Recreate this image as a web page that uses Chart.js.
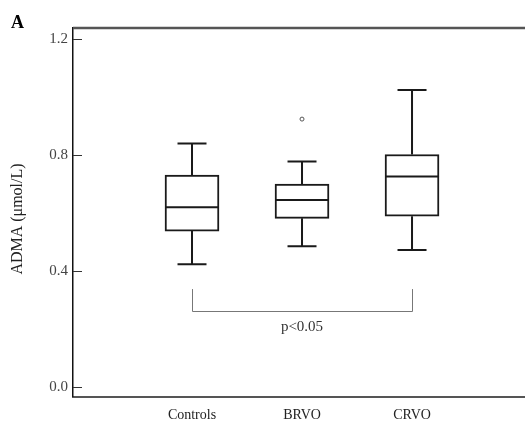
<!DOCTYPE html>
<html>
<head>
<meta charset="utf-8">
<script src="https://cdn.jsdelivr.net/npm/chart.js@4/dist/chart.umd.min.js"></script>
<style>
html,body{margin:0;padding:0;background:#fff;}
canvas{display:block;}
</style>
</head>
<body>
<canvas id="c" width="525" height="425"></canvas>
<script>
const categories = ['Controls', 'BRVO', 'CRVO'];
const whiskerLow  = [0.423, 0.485, 0.472];
const q1          = [0.537, 0.581, 0.588];
const median      = [0.619, 0.644, 0.725];
const q3          = [0.730, 0.699, 0.801];
const whiskerHigh = [0.839, 0.777, 1.023];
const outliers    = [[], [0.923], []];
const yTicks      = [0.0, 0.4, 0.8, 1.2];
const yTitle = 'ADMA (\u03bcmol/L)';
const panelLabel = 'A';
const comparison = {from: 0, to: 2, level: 0.262, top: 0.337, text: 'p<0.05'};

const SERIF = '"Liberation Serif", "DejaVu Serif", serif';

const boxPlugin = {
  id: 'boxExtras',
  afterDatasetsDraw(chart) {
    const ctx = chart.ctx;
    const xs = chart.scales.x, ys = chart.scales.y;
    const area = chart.chartArea;
    ctx.save();
    ctx.strokeStyle = '#1a1a1a';
    ctx.lineWidth = 2;
    const boxHalf = 27, capHalf = 14.5;
    categories.forEach((c, i) => {
      const px = xs.getPixelForValue(i + 1);
      const yl = ys.getPixelForValue(whiskerLow[i]);
      const y1 = ys.getPixelForValue(q1[i]);
      const ym = ys.getPixelForValue(median[i]);
      const y3 = ys.getPixelForValue(q3[i]);
      const yh = ys.getPixelForValue(whiskerHigh[i]);
      ctx.beginPath();
      ctx.moveTo(px, y3); ctx.lineTo(px, yh);
      ctx.moveTo(px, y1); ctx.lineTo(px, yl);
      ctx.moveTo(px - capHalf, yh); ctx.lineTo(px + capHalf, yh);
      ctx.moveTo(px - capHalf, yl); ctx.lineTo(px + capHalf, yl);
      ctx.moveTo(px - boxHalf, ym); ctx.lineTo(px + boxHalf, ym);
      ctx.stroke();
    });
    ctx.strokeStyle = '#555';
    ctx.lineWidth = 2.5;
    ctx.beginPath();
    ctx.moveTo(area.left, area.top);
    ctx.lineTo(area.right, area.top);
    ctx.stroke();
    ctx.strokeStyle = '#333';
    ctx.lineWidth = 1;
    yTicks.forEach(v => {
      const y = Math.round(ys.getPixelForValue(v)) + 0.5;
      ctx.beginPath();
      ctx.moveTo(area.left, y);
      ctx.lineTo(area.left + 9, y);
      ctx.stroke();
    });
    const bx1 = xs.getPixelForValue(comparison.from + 1);
    const bx2 = xs.getPixelForValue(comparison.to + 1);
    const by = ys.getPixelForValue(comparison.level);
    const bt = ys.getPixelForValue(comparison.top);
    ctx.strokeStyle = '#777';
    ctx.lineWidth = 1;
    ctx.beginPath();
    ctx.moveTo(Math.round(bx1) + 0.5, bt);
    ctx.lineTo(Math.round(bx1) + 0.5, Math.round(by) + 0.5);
    ctx.lineTo(Math.round(bx2) + 0.5, Math.round(by) + 0.5);
    ctx.lineTo(Math.round(bx2) + 0.5, bt);
    ctx.stroke();
    ctx.fillStyle = '#333';
    ctx.font = '15px ' + SERIF;
    ctx.textAlign = 'center';
    ctx.textBaseline = 'middle';
    ctx.fillText(comparison.text, (bx1 + bx2) / 2, by + 16);
    // y axis title
    ctx.save();
    ctx.translate(18, 219);
    ctx.rotate(-Math.PI / 2);
    ctx.font = '16px ' + SERIF;
    ctx.fillStyle = '#222';
    ctx.fillText(yTitle, 0, 0);
    ctx.restore();
    // panel label
    ctx.font = 'bold 18px ' + SERIF;
    ctx.fillStyle = '#000';
    ctx.textAlign = 'left';
    ctx.textBaseline = 'alphabetic';
    ctx.fillText(panelLabel, 11, 28);
    ctx.restore();
  }
};

new Chart(document.getElementById('c'), {
  type: 'bar',
  data: {
    datasets: [
      {
        type: 'bar',
        data: categories.map((c, i) => ({x: i + 1, y: [q1[i], q3[i]]})),
        backgroundColor: '#ffffff',
        borderColor: '#1a1a1a',
        borderWidth: 2,
        borderSkipped: false,
        barThickness: 54
      },
      {
        type: 'scatter',
        data: outliers.flatMap((arr, i) => arr.map(v => ({x: i + 1, y: v}))),
        pointRadius: 2,
        pointBorderWidth: 1,
        pointBorderColor: '#555',
        pointBackgroundColor: '#fff'
      }
    ]
  },
  options: {
    responsive: false,
    animation: false,
    devicePixelRatio: 1,
    layout: {autoPadding: false, padding: {top: 28, right: 0, left: 0, bottom: 0}},
    plugins: {legend: {display: false}, tooltip: {enabled: false}},
    scales: {
      x: {
        type: 'linear',
        offset: false,
        min: -0.0818,
        max: 4.027,
        afterBuildTicks: s => { s.ticks = [1, 2, 3].map(v => ({value: v})); },
        afterFit: s => { s.height = 28.3; s.paddingRight = 0; s.paddingLeft = 0; },
        ticks: {
          callback: v => categories[v - 1],
          color: '#222',
          font: {family: SERIF, size: 14},
          padding: 10,
          maxRotation: 0,
          autoSkip: false
        },
        grid: {display: false, drawTicks: false, offset: false},
        border: {color: '#555', width: 2}
      },
      y: {
        min: -0.034,
        max: 1.237,
        afterBuildTicks: s => { s.ticks = yTicks.map(v => ({value: v})); },
        afterFit: s => { s.width = 73; },
        ticks: {
          callback: v => v.toFixed(1),
          color: '#444',
          font: {family: SERIF, size: 15},
          padding: 5
        },
        title: {display: false},
        grid: {display: false, drawTicks: false},
        border: {color: '#111', width: 1.5}
      }
    }
  },
  plugins: [boxPlugin]
});
</script>
</body>
</html>
